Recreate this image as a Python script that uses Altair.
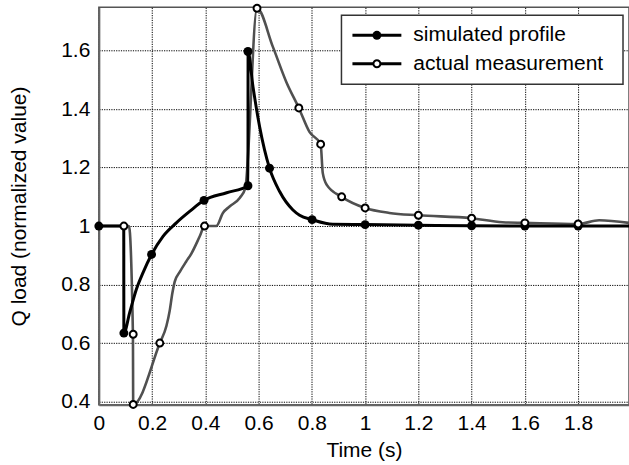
import altair as alt
import pandas as pd

# ---- data ----
series_names = ["simulated profile", "actual measurement"]

sim_x = [0.0, 0.0935, 0.094, 0.116, 0.141, 0.166, 0.198, 0.241, 0.291, 0.341, 0.395, 0.48,
         0.56, 0.5605, 0.579, 0.604, 0.641, 0.679, 0.729, 0.754, 0.801, 0.879, 1.0, 1.2,
         1.4, 1.6, 1.8, 1.991]
sim_y = [1.0, 1.0, 0.634, 0.705, 0.784, 0.841, 0.903, 0.965, 1.011, 1.05, 1.088, 1.114,
         1.138, 1.597, 1.476, 1.339, 1.198, 1.118, 1.055, 1.037, 1.022, 1.006, 1.005, 1.003,
         1.001, 1.0, 1.0, 1.0]
sim_mx = [0.0, 0.094, 0.198, 0.395, 0.56, 0.56, 0.641, 0.801, 1.0, 1.2, 1.4, 1.6, 1.8]
sim_my = [1.0, 0.634, 0.903, 1.088, 1.138, 1.597, 1.198, 1.022, 1.005, 1.003, 1.001, 1.0, 1.0]

meas_x = [0.0, 0.094, 0.113, 0.128, 0.129, 0.229, 0.254, 0.266, 0.276, 0.285, 0.304, 0.329,
          0.347, 0.379, 0.397, 0.441, 0.466, 0.491, 0.529, 0.55, 0.594, 0.654, 0.704, 0.751,
          0.791, 0.833, 0.841, 0.856, 0.912, 1.0, 1.091, 1.2, 1.4, 1.516, 1.6, 1.8, 1.879, 1.991]
meas_y = [1.0, 1.0, 1.0, 0.63, 0.39, 0.60, 0.659, 0.71, 0.77, 0.81, 0.843, 0.88,
          0.905, 0.965, 1.0, 1.0, 1.045, 1.067, 1.096, 1.13, 1.745, 1.612, 1.493, 1.404,
          1.322, 1.28, 1.181, 1.141, 1.10, 1.062, 1.045, 1.037, 1.027, 1.013, 1.011, 1.007, 1.02, 1.011]
meas_mx = [0.094, 0.129, 0.129, 0.229, 0.397, 0.594, 0.751, 0.833, 0.912, 1.0, 1.2, 1.4, 1.6, 1.8]
meas_my = [1.0, 0.63, 0.39, 0.60, 1.0, 1.745, 1.404, 1.28, 1.10, 1.062, 1.037, 1.027, 1.011, 1.007]

x_ticks = [0, 0.2, 0.4, 0.6, 0.8, 1.0, 1.2, 1.4, 1.6, 1.8]
y_ticks = [0.4, 0.6, 0.8, 1.0, 1.2, 1.4, 1.6]


def frame(xs, ys):
    return pd.DataFrame({"x": xs, "y": ys, "i": list(range(len(xs)))})


FONT = "Liberation Sans"
FS = 21
W, H = 531, 398

xscale = alt.Scale(domain=[0, 1.991], nice=False, zero=False)
yscale = alt.Scale(domain=[0.389, 1.748], nice=False, zero=False)

X = alt.X("x:Q", scale=xscale,
          axis=alt.Axis(values=x_ticks, format="~g", title="Time (s)",
                        labelPadding=8, titlePadding=6, labelFlush=False))
Y = alt.Y("y:Q", scale=yscale,
          axis=alt.Axis(values=y_ticks, format="~g", title="Q load (normalized value)",
                        labelPadding=9, titlePadding=31, labelFlush=False))

meas_line = alt.Chart(frame(meas_x, meas_y)).mark_line(
    color="#505050", strokeWidth=2.6, interpolate="monotone"
).encode(x=X, y=Y, order="i:Q")

sim_line = alt.Chart(frame(sim_x, sim_y)).mark_line(
    color="black", strokeWidth=3, interpolate="monotone"
).encode(x=X, y=Y, order="i:Q")

sim_pts = alt.Chart(frame(sim_mx, sim_my)).mark_point(
    shape="circle", filled=True, color="black", size=80, opacity=1
).encode(x=X, y=Y)

meas_pts = alt.Chart(frame(meas_mx, meas_my)).mark_point(
    shape="circle", filled=False, fill="white", fillOpacity=1, stroke="black",
    strokeWidth=2, size=48, opacity=1
).encode(x=X, y=Y)

# ---- legend (drawn inside the plot, top right) ----
box = alt.Chart(pd.DataFrame({"a": [0]})).mark_rect(
    fill="white", stroke="#333", strokeWidth=1.5
).encode(x=alt.value(243), x2=alt.value(525), y=alt.value(8), y2=alt.value(77))

leg_lines = []
leg_texts = []
for k, (name, ypos) in enumerate(zip(series_names, [28, 56.5])):
    d = pd.DataFrame({"name": [name]})
    leg_lines.append(alt.Chart(d).mark_rule(color="black", strokeWidth=3).encode(
        x=alt.value(254), x2=alt.value(303), y=alt.value(ypos)))
    if k == 0:
        leg_lines.append(alt.Chart(d).mark_point(
            shape="circle", filled=True, color="black", size=80, opacity=1
        ).encode(x=alt.value(278.5), y=alt.value(ypos)))
    else:
        leg_lines.append(alt.Chart(d).mark_point(
            shape="circle", filled=False, fill="white", fillOpacity=1, stroke="black",
            strokeWidth=2, size=48, opacity=1
        ).encode(x=alt.value(278.5), y=alt.value(ypos)))
    leg_texts.append(alt.Chart(d).mark_text(
        align="left", baseline="middle", font=FONT, fontSize=FS, color="black"
    ).encode(x=alt.value(315), y=alt.value(ypos), text="name:N"))

chart = alt.layer(
    meas_line, sim_line, sim_pts, meas_pts, box, *leg_lines, *leg_texts
).properties(
    width=W, height=H,
    autosize=alt.AutoSizeParams(type="none"),
    padding={"left": 99, "top": 7, "right": 0, "bottom": 60},
    background="white",
).configure_view(
    stroke="#555", strokeWidth=1.5
).configure_axis(
    grid=True, gridColor="black", gridDash=[1.2, 1.2], gridWidth=1, gridOpacity=1,
    domainColor="#666", domainWidth=2, ticks=False, tickSize=0,
    labelFont=FONT, labelFontSize=FS, labelColor="black",
    titleFont=FONT, titleFontSize=FS, titleFontWeight="normal", titleColor="black",
)

chart.save("out.html", embed_options={"renderer": "svg", "actions": False})
